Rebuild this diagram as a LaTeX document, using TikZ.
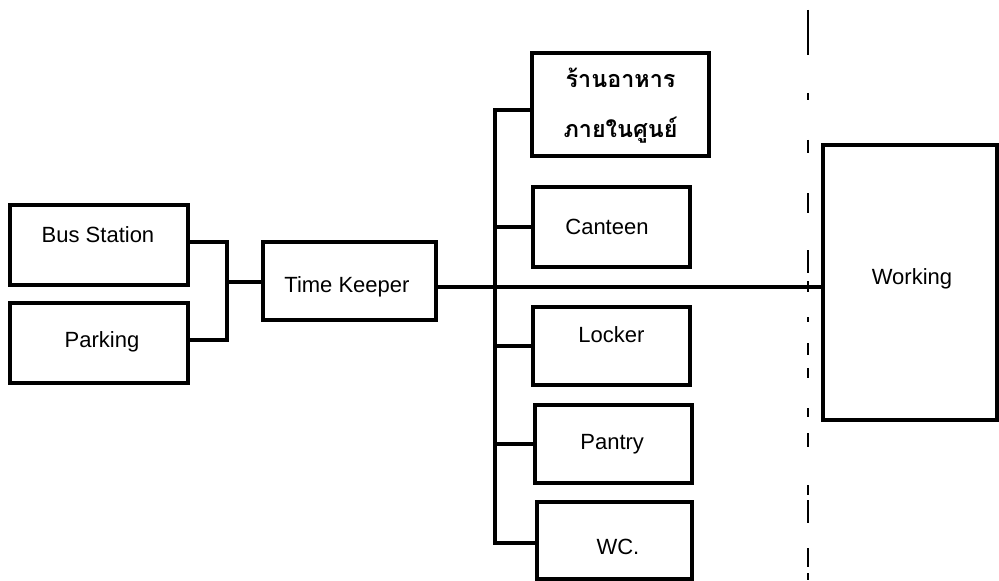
\documentclass[tikz,border=0pt]{standalone}
\usepackage{fontspec}
\setmainfont{Liberation Sans}
\newfontfamily\thaifont[Script=Thai]{Loma}
\tikzset{
  box/.style={draw, line width=2.6pt, rectangle, inner sep=0pt},
  lbl/.style={font=\fontsize{16.5}{18}\selectfont, text height=11.9pt, text depth=0pt, inner sep=0pt},
  thailbl/.style={font=\thaifont\bfseries\fontsize{17.5}{19}\selectfont, inner sep=0pt},
  conn/.style={line width=2.6pt, line cap=rect},
  dashseg/.style={line width=2.1pt}}
\begin{document}
\begin{tikzpicture}[x=0.75pt,y=-0.75pt]
\useasboundingbox (0,0) rectangle (999,581);

% boxes
\node[box, minimum width=133.5pt, minimum height=60pt, label={[lbl, yshift=7.5pt, xshift=-0.75pt]center:Bus Station}] (bus) at (99,245) {};
\node[box, minimum width=133.5pt, minimum height=60pt, label={[lbl, yshift=2.25pt, xshift=2.25pt]center:Parking}] (park) at (99,343) {};
\node[box, minimum width=129.75pt, minimum height=58.5pt, label={[lbl, yshift=-3pt, xshift=-1.9pt]center:Time Keeper}] (tk) at (349.5,281) {};
\node[box, minimum width=132.75pt, minimum height=77.25pt, line width=3.2pt,
  label={[thailbl, yshift=19.9pt]center:ร้านอาหาร},
  label={[thailbl, yshift=-19.1pt]center:ภายในศูนย์}] (thai) at (620.5,104.5) {};
\node[box, minimum width=117.75pt, minimum height=60pt, label={[lbl, xshift=-3.4pt]center:Canteen}] (cant) at (611.5,227) {};
\node[box, minimum width=117.75pt, minimum height=58.5pt, label={[lbl, yshift=8.25pt]center:Locker}] (lock) at (611.5,346) {};
\node[box, minimum width=117.75pt, minimum height=58.5pt, label={[lbl, yshift=1.9pt, xshift=-1pt]center:Pantry}] (pant) at (613.5,444) {};
\node[box, minimum width=116.25pt, minimum height=57.75pt, label={[lbl, yshift=-4.5pt, xshift=2.6pt]center:WC.}] (wc) at (614.5,540.5) {};
\node[box, minimum width=130.5pt, minimum height=206.25pt, label={[lbl, yshift=4.5pt, xshift=1.5pt]center:Working}] (work) at (910,282.5) {};

% connectors
\coordinate (j) at (227,282);
\coordinate (bt) at (495,110);
\coordinate (bb) at (495,543);
\draw[conn] ([yshift=2.25pt]bus.east) -| (j) |- ([yshift=2.25pt]park.east);
\draw[conn] (j) -- (tk.west |- j);
\draw[conn, line width=3pt] ([yshift=-4.5pt]tk.east) -- ([yshift=-4.5pt]tk.east -| work.west);
\draw[conn] (bt) -- (bb);
\draw[conn] (bt) -- (bt -| thai.west);
\draw[conn] (cant.west -| bt) -- (cant.west);
\draw[conn] (lock.west -| bt) -- (lock.west);
\draw[conn] (pant.west -| bt) -- (pant.west);
\draw[conn] (bb) -- (bb -| wc.west);

% irregular dashed boundary line
\foreach \a/\b in {10/55, 93/100, 140/153, 193/213, 250/273, 281/292, 317/322, 343/355, 368/378, 408/417, 433/447, 485/495, 500/523, 548/567, 573/580}
  \draw[dashseg] (808,\a) -- (808,\b);
\end{tikzpicture}
\end{document}
